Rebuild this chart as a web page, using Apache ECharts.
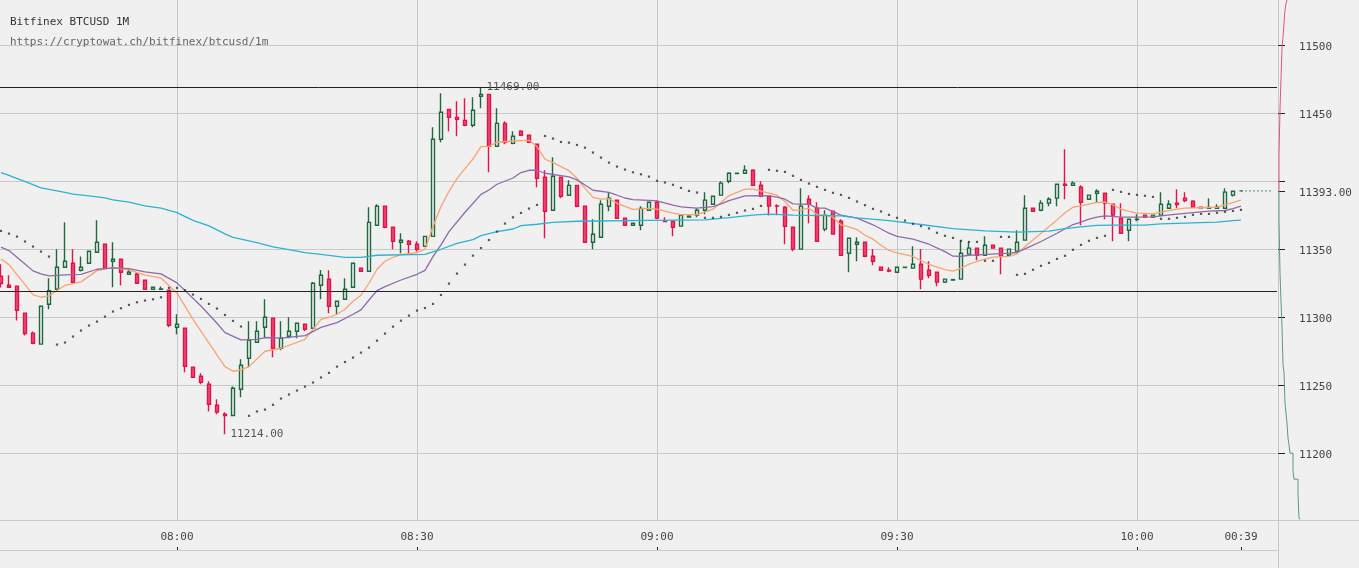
<!DOCTYPE html>
<html><head><meta charset="utf-8">
<style>html,body{margin:0;padding:0;background:#f0f0f0}#c{width:1359px;height:568px}</style>
<script src="https://cdn.jsdelivr.net/npm/echarts@6/dist/echarts.min.js"></script>
</head><body><div id="c"></div>
<script>
const titleText='Bitfinex BTCUSD 1M';
const subText='https://cryptowat.ch/bitfinex/btcusd/1m';
const tickIndex=[22,52,82,112,142,155];
const tickLabels=['08:00','08:30','09:00','09:30','10:00','00:39'];
const priceLabels=[11200,11250,11300,11350,11393,11450,11500];
const gridPrices=[11200,11250,11300,11350,11400,11450,11500];
const levelHigh=11469.3, levelLow=11319.5, lastPrice=11393, lastIndex=155;
const opens=[11330.3,11323.6,11322.9,11303.1,11288.4,11280.3,11309.7,11320.7,11336.9,11339.8,11334.7,11339.8,11347.9,11353.8,11341.3,11342.8,11331.7,11331.7,11327.3,11320.7,11320.7,11320,11292.8,11292,11263.4,11256.7,11250.8,11235.4,11228.8,11227.8,11247.2,11270,11281.7,11292.8,11299.4,11277.3,11286.1,11289.8,11295,11292,11323.6,11328,11308.2,11313.3,11322.2,11336.1,11333.9,11367.7,11381.7,11366.3,11355.2,11356,11353.8,11352.3,11359.6,11431,11453,11447.1,11444.9,11441.3,11462.6,11464,11425.8,11442.7,11428,11436.9,11433.9,11427.3,11403,11378.8,11403,11389.8,11397.1,11381.7,11355.2,11358.9,11381.7,11386.1,11372.9,11367.7,11367.7,11378.8,11384.7,11370.7,11370.7,11367.1,11373.7,11375.2,11378.8,11383.2,11389.9,11400.1,11405.8,11406,11408.2,11397.2,11389.1,11382,11381,11366.3,11350.2,11386.9,11380.3,11364.9,11378.1,11370.7,11347.2,11353.8,11355.3,11345,11336.9,11334.7,11333.2,11336.7,11336.2,11339.1,11334.7,11333.2,11325.9,11327.4,11328.1,11346.5,11350.9,11345.7,11353.1,11350.9,11345.7,11348.7,11356.8,11380.3,11378.8,11384,11387.7,11397.9,11397.2,11395.7,11386.9,11391.3,11391.3,11383.2,11373,11364.1,11372,11375.2,11373.7,11375.2,11380.3,11384,11387.7,11385.4,11381,11380.3,11380.3,11380.3,11389.9,11393];
const closes=[11324.9,11322.2,11305.3,11288.1,11281,11308.2,11319.7,11336.9,11341.3,11325.8,11336.9,11348.6,11355.3,11336.1,11342.8,11333.2,11333.2,11325.1,11320.7,11322.2,11320.9,11294.2,11295,11264.1,11256,11252.3,11236.1,11230.3,11227.8,11247.9,11264.8,11283.2,11289.8,11300.1,11277.3,11284.7,11289.8,11295.7,11291.3,11325.1,11331,11308.2,11311.9,11320.7,11339.8,11333.9,11369.9,11381.7,11366.3,11356,11356.7,11353.8,11350.1,11359.6,11431,11450.8,11447.1,11445.7,11441.3,11452.3,11464,11425.8,11442.7,11428.8,11433.2,11433.9,11428.8,11402.3,11378,11403.8,11389,11397.1,11381.7,11355.2,11361.1,11383.2,11387.6,11372.9,11367.7,11369.2,11380.2,11384.7,11373,11370.5,11366.3,11375.2,11374.4,11378.8,11386.2,11389.1,11398.7,11406,11406,11408.2,11397.2,11389.1,11381.8,11381.8,11367,11350.2,11381.8,11383.2,11356,11375.2,11361.2,11345.7,11358.2,11355.3,11345,11341.3,11334.7,11334,11336.9,11336.9,11339.1,11328.1,11331,11325.9,11328.1,11327.8,11347.2,11350.9,11345.7,11353.1,11350.9,11345,11350.2,11355.3,11380.3,11378.1,11384,11386.9,11397.9,11397.2,11398.7,11384.7,11389.9,11392.8,11384,11375.2,11361.9,11372.2,11372.2,11373.7,11375.2,11383.2,11383.2,11383,11385.9,11381,11380.5,11380.8,11381,11392.1,11392.8,11393];
const lows=[11321.9,11321.9,11297.7,11286.6,11280.3,11280.3,11306,11320.7,11336.9,11325.8,11333.7,11339.8,11347.9,11336.1,11322.2,11323.6,11331.7,11324.6,11320.7,11320.7,11320.7,11292.8,11287.6,11259.7,11256,11250.8,11230.8,11228.8,11214,11227.8,11241.3,11263.3,11281.7,11284.7,11270.7,11275.9,11284.7,11284.7,11289.8,11292,11313.3,11303,11302.3,11313.3,11322.2,11333.9,11333.9,11367.7,11365.5,11350.1,11347.1,11347.1,11348.4,11352.3,11359.6,11428.8,11436.9,11433.2,11440.5,11439.8,11453.8,11406.7,11425.8,11427.3,11427.3,11433.9,11428.8,11395.7,11358.2,11378.8,11387.6,11389.8,11381,11355.2,11350.1,11358.9,11378,11372.9,11367.7,11367.7,11364,11378.8,11372.2,11370,11359.7,11367.1,11373.7,11373.7,11375.9,11382.8,11389.9,11398.7,11405.3,11406,11397.2,11388.4,11374.9,11375.2,11353.8,11348.7,11350.2,11369.3,11356,11363.4,11361.2,11345.7,11333.2,11341.3,11344.3,11338.4,11334.7,11333.2,11333.2,11336.7,11336.2,11320.7,11328.8,11322.9,11325.2,11327.4,11328.1,11346.5,11342,11345.7,11350.9,11331.8,11345.7,11348.7,11356.8,11378.1,11378.1,11381.8,11381.8,11386.9,11397.2,11367.8,11386.9,11384.7,11372.2,11356,11361.9,11356,11370.7,11373,11373,11375.2,11380.3,11380.3,11384.7,11381,11380.5,11380.3,11380.3,11380.3,11388.9,11393];
const highs=[11339.1,11331,11322.9,11303.1,11289.6,11308.2,11328.8,11350.1,11370,11350.1,11344.7,11348.6,11371.4,11353.8,11355.3,11342.8,11336.1,11333.2,11327.3,11322.2,11322.7,11320,11302.3,11292,11263.4,11258.9,11253,11239.8,11230.3,11249.1,11269.2,11297.2,11297.2,11313.3,11299.4,11297.2,11300.1,11295.7,11295,11326.1,11334.9,11334.6,11311.9,11328.8,11339.8,11336.1,11381,11383.2,11381.7,11366.3,11361.9,11356.9,11356,11359.6,11439.8,11464.8,11453,11458.9,11461.1,11461.9,11469,11464,11453.8,11444.2,11436.9,11437.6,11433.9,11427.3,11408.2,11417.7,11403,11400.8,11397.1,11381.7,11372.2,11386.1,11392,11386.1,11372.9,11369.2,11381.7,11384.7,11386.2,11373.7,11370.7,11375.9,11375.2,11380.3,11392.1,11389.1,11400.1,11406.8,11406,11411.9,11409,11400.1,11389.1,11383.2,11381.8,11366.3,11395,11389.9,11384.7,11378.8,11378.1,11372.2,11358.2,11359,11355.3,11350.2,11336.9,11336.9,11336.9,11336.9,11352.4,11350.2,11341.3,11333.2,11328.1,11327.8,11356.8,11355.3,11350.9,11359.7,11353.1,11350.9,11350.2,11364.1,11389.9,11380.3,11386.2,11388.4,11397.9,11423.7,11400.2,11397.2,11389.9,11394.3,11391.3,11383.2,11384,11372.2,11375.9,11375.2,11375.2,11392.1,11386.2,11394.3,11392.1,11386.2,11381,11387.7,11383.2,11395,11392.8,11393];
const sarDots=[11363.6,11361.6,11359.4,11355.8,11352.1,11348.4,11344.7,11280,11281.5,11285.9,11290.3,11294,11296.9,11300.6,11304.3,11306.7,11309.2,11311.1,11312.4,11313.3,11314.8,11321.7,11321.7,11320,11316.8,11313.6,11309.9,11306.5,11301.8,11297.4,11293.3,11227.6,11230.8,11232.2,11235.7,11240.3,11243.3,11246.2,11249.1,11252.1,11255.8,11259.2,11263.8,11267.2,11270.4,11274.1,11277.8,11282.9,11288.1,11293.2,11297.6,11301.3,11305,11306.9,11309.9,11316.5,11324.8,11332.2,11338.8,11345.4,11351,11356.9,11363.1,11369,11373.6,11376.8,11380,11382.7,11433.4,11431.5,11429,11428.5,11426.8,11424.8,11421.2,11417.5,11413.8,11410.9,11408.7,11406.7,11405.2,11403.5,11400.4,11399.2,11397.5,11395.2,11393,11391.8,11373.2,11373.2,11373.9,11375.4,11376.9,11378.6,11379.8,11382,11408.5,11407.8,11407,11404.1,11401.1,11398.4,11396,11393.8,11391.6,11390.1,11387.9,11385.2,11382.5,11379.8,11377.9,11375.4,11373.2,11371.2,11368.8,11367.1,11365.4,11362.2,11360,11358.5,11356.3,11355.5,11355.5,11341.6,11341.6,11359.2,11359.2,11331.3,11332,11335,11337.9,11340.1,11343,11345.3,11349.7,11353.3,11356.3,11358.5,11360,11393.8,11392.3,11390.8,11390.1,11389.4,11388.6,11372.5,11372.5,11373.2,11373.9,11375.4,11376.1,11376.1,11376.9,11377.6,11378.3,11379.1];
const orangeLine=[[0,11343],[1,11338.8],[4,11316.8],[5,11314.8],[6,11315.8],[8,11323.6],[10,11326.1],[12,11334.4],[14,11336.6],[16,11334.9],[18,11331],[20,11329],[22,11317.8],[24,11298.6],[26,11281],[28,11263.8],[29,11260.4],[30,11261.4],[31,11263.8],[33,11275.1],[35,11277.3],[38,11283.9],[40,11298.6],[41,11300.1],[42,11302.3],[43,11306],[44,11311.9],[45,11316.3],[46,11325.1],[47,11335.4],[48,11341.3],[49,11344.2],[50,11346.2],[52,11347.6],[53,11350.1],[54,11366.8],[55,11381.5],[56,11392.7],[57,11402],[58,11409.4],[59,11416.5],[60,11425.6],[61,11425.8],[62,11428.8],[64,11429.7],[66,11430.2],[67,11425.6],[68,11416.3],[69,11413.8],[71,11407.9],[72,11402.3],[73,11394.9],[74,11388.3],[75,11386.9],[76,11387.3],[77,11383.9],[79,11379.5],[81,11380.2],[82,11379.6],[84,11376.6],[85,11375.6],[87,11375.6],[89,11379.6],[90,11384.5],[91,11389.6],[93,11394.3],[94,11394.3],[96,11391.3],[97,11389.9],[98,11385.2],[99,11378.8],[100,11379.1],[101,11380.3],[102,11375.6],[103,11375.4],[104,11373.7],[105,11368],[106,11366.6],[107,11364.6],[108,11360.4],[109,11357.5],[110,11353.1],[111,11349.2],[112,11347.5],[114,11344.8],[116,11338.9],[118,11335.2],[119,11334],[120,11336.2],[121,11339.1],[122,11341.1],[123,11342.8],[124,11344.3],[126,11344.8],[127,11346.7],[128,11352.1],[130,11361.9],[132,11371.7],[133,11376.9],[134,11381],[135,11382],[137,11384.5],[138,11384.7],[139,11382.8],[140,11379.6],[141,11377.9],[142,11376.6],[144,11376.1],[145,11377.4],[147,11379.6],[148,11380.3],[152,11381],[153,11382.8],[155,11386.2]];
const purpleLine=[[0,11351.6],[1,11349.1],[3,11339.3],[4,11334.2],[5,11332],[6,11330.5],[8,11331.2],[10,11331.7],[12,11335.4],[14,11336.4],[16,11335.9],[18,11333.4],[20,11332],[22,11325.4],[25,11308.4],[27,11295.7],[28,11288.8],[30,11283.4],[32,11283.9],[33,11285.2],[35,11284.7],[38,11286.6],[40,11292.7],[42,11296.2],[44,11302.3],[45,11305.5],[46,11312.8],[47,11319.7],[48,11322.6],[50,11327.5],[52,11331.7],[53,11334.6],[54,11344.7],[55,11353.3],[56,11363.1],[58,11377.3],[60,11390.5],[61,11393.7],[62,11397.9],[64,11402.5],[65,11406.5],[66,11408.2],[67,11408.2],[68,11406],[70,11404.3],[71,11403.3],[72,11401.1],[73,11397.4],[74,11393.5],[76,11392],[78,11387.8],[79,11386.6],[81,11386.1],[82,11385.7],[84,11382.5],[85,11381.3],[87,11380.3],[89,11381.5],[90,11383.5],[91,11385.9],[93,11389.4],[95,11389.6],[96,11389.4],[97,11388.4],[98,11386.9],[99,11383.5],[101,11383.2],[102,11380.3],[103,11380.3],[105,11375.2],[107,11373],[109,11368.1],[111,11361.9],[112,11359.5],[114,11357.5],[116,11353.8],[118,11348.4],[119,11345],[120,11344.8],[121,11345.7],[122,11346],[126,11347.2],[127,11347.7],[128,11350.4],[130,11355.8],[132,11361.9],[134,11368.3],[135,11370],[136,11372.2],[137,11373.7],[138,11374.7],[140,11373.7],[142,11373.7],[144,11373.9],[145,11374.7],[147,11375.9],[149,11377.1],[151,11378.1],[153,11378.6],[154,11380],[155,11381.8]];
const cyanLine=[[0,11406.5],[1,11404.5],[4,11397.7],[5,11395.2],[6,11394.2],[8,11392],[9,11390.6],[11,11389.3],[13,11387.9],[14,11386.4],[16,11384.7],[18,11382],[20,11380.3],[22,11377.1],[24,11371.4],[26,11367.3],[28,11361.4],[29,11358.9],[32,11355],[34,11351.8],[36,11349.9],[38,11347.7],[40,11346.3],[43,11344.2],[45,11344.2],[47,11345.7],[53,11346.4],[55,11350.1],[57,11354.5],[59,11357.2],[60,11360.1],[62,11363.1],[64,11365],[65,11367.5],[67,11368.5],[69,11369.9],[72,11370.7],[81,11371.4],[88,11371.7],[91,11373.4],[94,11375.2],[96,11375.9],[99,11375.2],[105,11374.7],[107,11373.2],[111,11371.2],[115,11368.3],[119,11365.3],[123,11363.6],[127,11362.7],[131,11363.4],[133,11365.3],[135,11366.6],[137,11367.6],[139,11367.8],[143,11367.8],[145,11368.8],[148,11369.3],[152,11370],[154,11371.2],[155,11371.5]];
const depthAsk=[[1,11393],[1,11420],[2,11420],[2,11453.1],[3,11453.1],[3,11475.9],[4,11475.9],[4,11498],[5.3,11498],[5.3,11509],[6.7,11509],[6.7,11523.7],[7.7,11523.7],[7.7,11529.8],[9,11529.8],[9,11533.4]];
const depthBid=[[1,11393],[1,11370.5],[2,11370.5],[2,11332.5],[3,11332.5],[3,11311.7],[4,11311.7],[4,11293.3],[5,11293.3],[5,11265.1],[6,11265.1],[6,11259.7],[7,11259.7],[7,11236.9],[9,11236.9],[9,11222.2],[10,11222.2],[10,11211.2],[11,11211.2],[11,11206.3],[12,11206.3],[12,11200.1],[15,11200.1],[15,11186.7],[16,11186.7],[16,11181],[20,11181],[20,11170],[21,11170],[21,11151.9],[22.3,11151.9]];

const pad=n=>(n<10?'0':'')+n;
const categories=opens.map((_,i)=>{const m=7*60+38+i;return pad(Math.floor(m/60))+':'+pad(m%60);}).concat(['','','','']);
const candles=opens.map((o,i)=>[o,closes[i],lows[i],highs[i]]);
const mono='"DejaVu Sans Mono",monospace';
const yMin=11151, yMax=11533.4;
const isTick=i=>tickIndex.indexOf(i)>=0;
const line=(data,color,z)=>({type:'line',data,symbol:'none',z,silent:true,lineStyle:{color,width:1.3},itemStyle:{color}});
const option={
 animation:false,backgroundColor:'#f0f0f0',
 title:[
  {text:titleText,left:10,top:17,padding:0,textStyle:{fontFamily:mono,fontSize:11,fontWeight:'normal',color:'#333'}},
  {text:subText,left:10,top:37,padding:0,textStyle:{fontFamily:mono,fontSize:11,fontWeight:'normal',color:'#666'}}
 ],
 grid:[
  {left:-3,top:0,width:1280,height:520,outerBoundsMode:'none'},
  {left:-3,top:520,width:1280,height:30,outerBoundsMode:'none'},
  {left:1278,top:0,width:81,height:520,outerBoundsMode:'none'}
 ],
 xAxis:[
  {type:'category',gridIndex:0,data:categories,axisLine:{show:false},axisTick:{show:false},axisLabel:{show:false},
   splitLine:{show:true,alignWithLabel:true,interval:i=>isTick(i)&&i!==lastIndex,lineStyle:{color:'#c8c8c8',width:1}},axisPointer:{show:false}},
  {type:'category',gridIndex:1,data:categories,
   axisLine:{show:true,lineStyle:{color:'#c8c8c8'}},
   axisTick:{show:true,inside:true,length:3,alignWithLabel:true,interval:i=>isTick(i),lineStyle:{color:'#222'}},
   axisLabel:{inside:true,margin:7,interval:i=>isTick(i),formatter:(v,i)=>{const k=tickIndex.indexOf(i);return k>=0?tickLabels[k]:'';},fontFamily:mono,fontSize:11,color:'#444'},
   splitLine:{show:false}},
  {type:'value',gridIndex:2,min:0,max:81,show:false}
 ],
 yAxis:[
  {type:'value',gridIndex:0,position:'right',offset:1,min:yMin,max:yMax,scale:true,
   axisLine:{show:true,lineStyle:{color:'#c8c8c8'}},
   axisTick:{show:true,length:7,customValues:gridPrices.concat([lastPrice]),lineStyle:{color:'#222'}},
   axisLabel:{margin:21,verticalAlign:'top',lineHeight:4,customValues:priceLabels,formatter:v=>v===lastPrice?v.toFixed(2):String(v),fontFamily:mono,fontSize:11,color:'#444'},
   splitLine:{show:false}},
  {type:'value',gridIndex:0,position:'left',min:yMin,max:yMax,scale:true,
   axisLine:{show:false},axisLabel:{show:false},
   axisTick:{show:false,customValues:gridPrices},
   splitLine:{show:true,lineStyle:{color:'#c8c8c8',width:1}}},
  {type:'value',gridIndex:1,show:false,min:0,max:1},
  {type:'value',gridIndex:2,show:false,min:yMin,max:yMax,scale:true}
 ],
 graphic:[
  {type:'line',silent:true,z:1,shape:{x1:1278.5,y1:520,x2:1278.5,y2:568},style:{stroke:'#c8c8c8',lineWidth:1}},
  {type:'line',silent:true,z:1,shape:{x1:0,y1:520.5,x2:1359,y2:520.5},style:{stroke:'#c8c8c8',lineWidth:1}}
 ],
 series:[
  {type:'line',data:[],z:1,silent:true,symbol:'none',
   markLine:{silent:true,symbol:'none',animation:false,label:{show:false},lineStyle:{color:'#222',width:1,type:'solid'},
    data:[{yAxis:levelHigh},{yAxis:levelLow}]}},
  {type:'line',data:[[lastIndex,lastPrice],[159,lastPrice]],symbol:'none',z:1,silent:true,lineStyle:{color:'#5a8a6c',width:1,type:[2,2]}},
  {type:'candlestick',data:candles,barWidth:4,z:2,silent:true,
   itemStyle:{color:'#f0f0f0',color0:'#ef4a6e',borderColor:'#1d6b3c',borderColor0:'#e0144c',borderColorDoji:'#1d6b3c',borderWidth:1.4},
   markPoint:{silent:true,symbol:'circle',symbolSize:1,animation:false,itemStyle:{color:'transparent'},
    label:{position:'right',distance:5,fontFamily:mono,fontSize:11,color:'#555',formatter:p=>p.value.toFixed(2)},
    data:[{coord:[60,11469],value:11469},{coord:[28,11214],value:11214}]}},
  line(orangeLine,'#f9a36f',3),
  line(purpleLine,'#8f6ba8',3),
  line(cyanLine,'#2fb2d0',3),
  {type:'scatter',data:sarDots.map((v,i)=>[i,v]),symbol:'rect',symbolSize:2.2,z:4,silent:true,itemStyle:{color:'#333'}},
  {type:'line',xAxisIndex:2,yAxisIndex:3,data:depthAsk,symbol:'none',silent:true,lineStyle:{color:'#e0567a',width:1}},
  {type:'line',xAxisIndex:2,yAxisIndex:3,data:depthBid,symbol:'none',silent:true,lineStyle:{color:'#5a9b78',width:1}}
 ]
};
echarts.init(document.getElementById('c'),null,{renderer:'canvas'}).setOption(option);
</script></body></html>
